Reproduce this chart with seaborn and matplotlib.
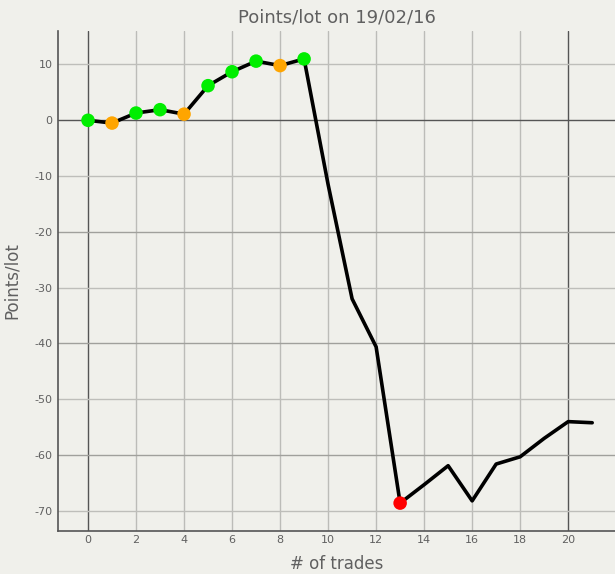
import matplotlib
matplotlib.use('Agg')
import matplotlib.pyplot as plt
import numpy as np
import pandas as pd
import seaborn as sns

# Data
trades = list(range(22))
points = [0.0, -0.5, 1.3, 1.9, 1.1, 6.2, 8.7, 10.6, 9.8, 11.0, -11.5, -32.0,
          -40.6, -68.6, -65.3, -61.9, -68.2, -61.6, -60.3, -57.0, -54.0, -54.2]

marker_idx = [0, 1, 2, 3, 4, 5, 6, 7, 8, 9, 13]
marker_kind = ['up', 'down', 'up', 'up', 'down', 'up', 'up', 'up', 'down', 'up', 'low']
kind_colors = {'up': '#00ee00', 'down': '#ffa500', 'low': '#ff0000'}

x_ticks = list(range(0, 21, 2))
y_ticks = list(range(-70, 11, 10))

bg = '#f0f0eb'
txt = '#606060'

sns.set_style('white')
plt.rcParams['font.family'] = ['DejaVu Sans']
plt.rcParams['axes.unicode_minus'] = False

df = pd.DataFrame({'trades': trades, 'points': points})
dm = pd.DataFrame({'trades': [trades[i] for i in marker_idx],
                   'points': [points[i] for i in marker_idx],
                   'kind': marker_kind})

fig = plt.figure(figsize=(6.15, 5.74), dpi=100, facecolor=bg)
ax = fig.add_axes([58 / 615, 1 - 531 / 574, 1 - 58 / 615, (531 - 31) / 574])
ax.set_facecolor(bg)

# grid
for xv in x_ticks:
    dark = xv in (0, 20)
    ax.axvline(xv, color='#555555' if dark else '#bcbcb8', lw=1.0, zorder=0)
for yv in y_ticks:
    if yv == 0:
        ax.axhline(yv, color='#555555', lw=1.0, zorder=0)
    elif yv % 20 == 0:
        ax.axhline(yv, color='#a0a09c', lw=1.0, zorder=0)
    else:
        ax.axhline(yv, color='#bebeba', lw=1.0, zorder=0)

sns.lineplot(data=df, x='trades', y='points', color='black', lw=2.6, ax=ax, zorder=3)
sns.scatterplot(data=dm, x='trades', y='points', hue='kind', palette=kind_colors,
                s=95, edgecolor='none', legend=False, ax=ax, zorder=4)

ax.set_xlim(-1.25, 21.95)
ax.set_ylim(-73.6, 16)
ax.set_xticks(x_ticks)
ax.set_yticks(y_ticks)
ax.tick_params(axis='both', length=0, labelsize=8, labelcolor=txt)
ax.tick_params(axis='x', pad=3)
ax.tick_params(axis='y', pad=4)

for s in ['top', 'right']:
    ax.spines[s].set_visible(False)
for s in ['left', 'bottom']:
    ax.spines[s].set_color('#555555')
    ax.spines[s].set_linewidth(1.2)

ax.set_xlabel('# of trades', fontsize=12, color=txt)
ax.set_ylabel('Points/lot', fontsize=12, color=txt)
ax.xaxis.set_label_coords(0.5, -0.048)
ax.yaxis.set_label_coords(-0.066, 0.5)
ax.set_title('Points/lot on 19/02/16', fontsize=13, color=txt, pad=6)

fig.savefig('out.png', dpi=100, facecolor=bg)
